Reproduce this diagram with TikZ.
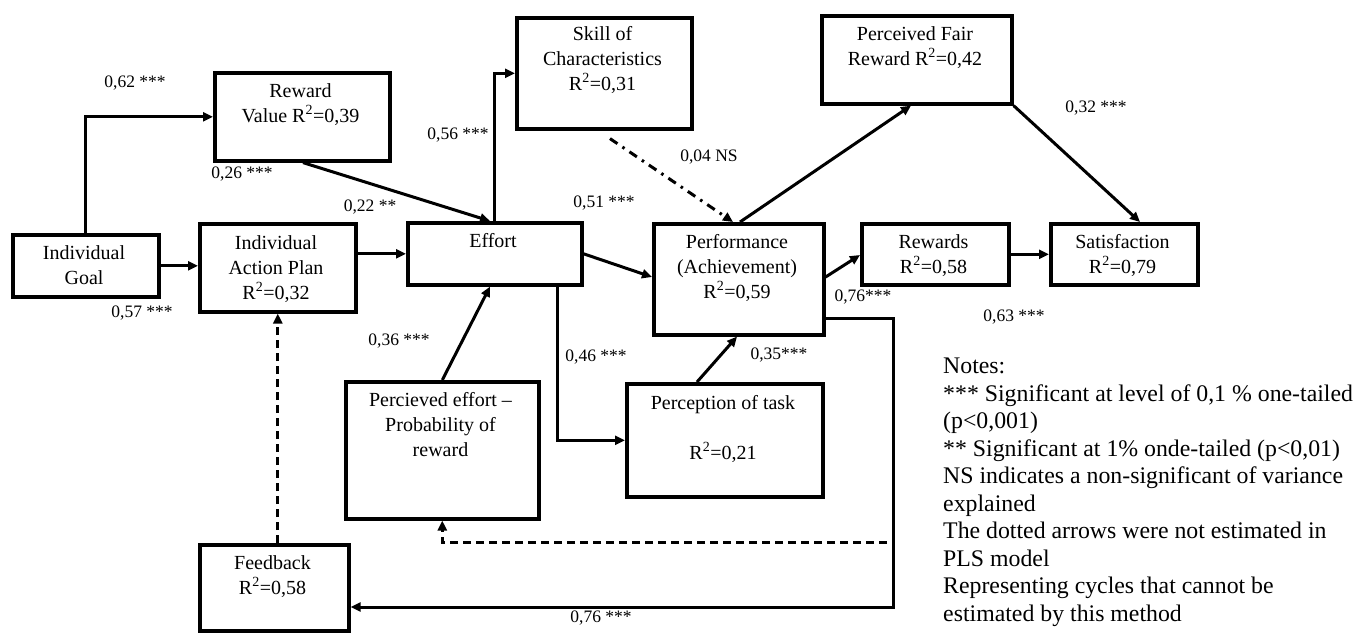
\documentclass[tikz,border=0pt]{standalone}
\usepackage{fontspec}
\setmainfont{Liberation Serif}
\usetikzlibrary{arrows.meta}
\begin{document}
\begin{tikzpicture}[x=1pt,y=-1pt,
  box/.style={draw, line width=3.6pt, rectangle, inner sep=0pt, anchor=north west},
  boxtext/.style={anchor=north, inner sep=0pt, align=center, font=\fontsize{20}{25}\selectfont},
  coef/.style={inner sep=0pt, font=\fontsize{17.5}{21}\selectfont},
  tip/.style={-{Triangle[length=10pt,width=9pt]}},
  link/.style={line width=3pt, tip},
  dashlink/.style={line width=3pt, tip, dash pattern=on 8pt off 5pt},
  dotdashlink/.style={line width=3pt, tip, dash pattern=on 9pt off 6pt on 2.5pt off 6pt},
  notestyle/.style={inner sep=0pt, align=left, font=\fontsize{23.8}{27.5}\selectfont}
]
\useasboundingbox (0,0) rectangle (1371,633);

% boxes
\node[box, minimum width=146pt, minimum height=62pt]  (goal)    at (11,233)  {};
\node[box, minimum width=156pt, minimum height=88pt]  (plan)    at (198,222) {};
\node[box, minimum width=175pt, minimum height=88pt]  (rv)      at (213,71)  {};
\node[box, minimum width=174pt, minimum height=62pt]  (effort)  at (406,221) {};
\node[box, minimum width=175pt, minimum height=111pt] (skill)   at (515,16)  {};
\node[box, minimum width=170pt, minimum height=111pt] (perf)    at (652,222) {};
\node[box, minimum width=190pt, minimum height=88pt]  (pfr)     at (820,14)  {};
\node[box, minimum width=147pt, minimum height=61pt]  (rewards) at (860,222) {};
\node[box, minimum width=147pt, minimum height=61pt]  (sat)     at (1049,222) {};
\node[box, minimum width=193pt, minimum height=137pt] (pe)      at (344,380) {};
\node[box, minimum width=196pt, minimum height=113pt] (pt)      at (625,382) {};
\node[box, minimum width=149pt, minimum height=86pt]  (fb)      at (198,543) {};

% box captions
\node[boxtext] (goal-t)    at (84,245)    {Individual\\Goal};
\node[boxtext] (plan-t)    at (276,235)   {Individual\\Action Plan\\R\textsuperscript{2}=0,32};
\node[boxtext] (rv-t)      at (300.5,83)  {Reward\\Value R\textsuperscript{2}=0,39};
\node[boxtext] (effort-t)  at (493,233)   {Effort};
\node[boxtext] (skill-t)   at (602.5,26)  {Skill of\\Characteristics\\R\textsuperscript{2}=0,31};
\node[boxtext] (perf-t)    at (737,234)   {Performance\\(Achievement)\\R\textsuperscript{2}=0,59};
\node[boxtext] (pfr-t)     at (915,26)    {Perceived Fair\\Reward R\textsuperscript{2}=0,42};
\node[boxtext] (rewards-t) at (933.5,234) {Rewards\\R\textsuperscript{2}=0,58};
\node[boxtext] (sat-t)     at (1122.5,234){Satisfaction\\R\textsuperscript{2}=0,79};
\node[boxtext] (pe-t)      at (440.5,392) {Percieved effort –\\Probability of\\reward};
\node[boxtext] (pt-t)      at (723,395)   {Perception of task\\[25pt]R\textsuperscript{2}=0,21};
\node[boxtext] (fb-t)      at (272.5,555) {Feedback\\R\textsuperscript{2}=0,58};

% paths
\draw[link] ([xshift=74pt]goal.north west) |- (rv.west);
\draw[link] ([xshift=90pt]rv.south west) -- ([xshift=84pt]effort.north west);
\draw[link] (goal.east) -- (goal.east -| plan.west);
\draw[link] (plan.east |- effort.west) -- (effort.west);
\draw[link] ([xshift=88pt]effort.north west) |- (skill.west);
\draw[link] (effort.east) -- ([yshift=-55pt]perf.north west);
\draw[dotdashlink] ([xshift=95pt,yshift=-8pt]skill.south west) -- ([xshift=81pt]perf.north west);
\draw[link] ([xshift=88pt]perf.north west) -- ([xshift=91pt]pfr.south west);
\draw[link] (pfr.south east) -- ([xshift=91pt]sat.north west);
\draw[link] ([yshift=-55pt]perf.north east) -- ([yshift=-33pt]rewards.north west);
\draw[link] (rewards.east) -- (sat.west);
\coordinate (loopturn) at (893,607);
\draw[link] ([yshift=-96pt]perf.north east) -| (loopturn) -- (loopturn -| fb.east);
\draw[dashlink] (plan.south |- fb.north) -- (plan.south);
\coordinate (cyclestart) at (887,542);
\draw[dashlink] (cyclestart) -| (pe.south);
\draw[link] (pe.north) -- ([xshift=84pt]effort.south west);
\draw[link] ([xshift=151pt]effort.south west) |- (pt.west);
\draw[link] ([xshift=72pt]pt.north west) -- ([xshift=85pt]perf.south west);

% path coefficients
\node[coef] (c-goal-rv)    at (135,83)  {0,62 ***};
\node[coef] (c-rv-eff)     at (242,174) {0,26 ***};
\node[coef] (c-plan-eff)   at (370,207) {0,22 **};
\node[coef] (c-eff-skill)  at (458,135) {0,56 ***};
\node[coef] (c-skill-perf) at (709,157) {0,04 NS};
\node[coef] (c-eff-perf)   at (604,203) {0,51 ***};
\node[coef] (c-pfr-sat)    at (1096,108){0,32 ***};
\node[coef] (c-goal-plan)  at (142,313) {0,57 ***};
\node[coef] (c-pe-eff)     at (399,341) {0,36 ***};
\node[coef] (c-eff-pt)     at (596,357) {0,46 ***};
\node[coef] (c-pt-perf)    at (779,355) {0,35***};
\node[coef] (c-perf-rew)   at (863,297) {0,76***};
\node[coef] (c-rew-sat)    at (1014,317){0,63 ***};
\node[coef] (c-perf-fb)    at (601,618) {0,76 ***};

% notes
\node[notestyle, anchor=north west] (notes) at (943,358) {Notes:\\
*** Significant at level of 0,1 \% one-tailed\\
(p<0,001)\\
** Significant at 1\% onde-tailed (p<0,01)\\
NS indicates a non-significant of variance\\
explained\\
The dotted arrows were not estimated in\\
PLS model\\
Representing cycles that cannot be\\
estimated by this method};
\end{tikzpicture}
\end{document}
